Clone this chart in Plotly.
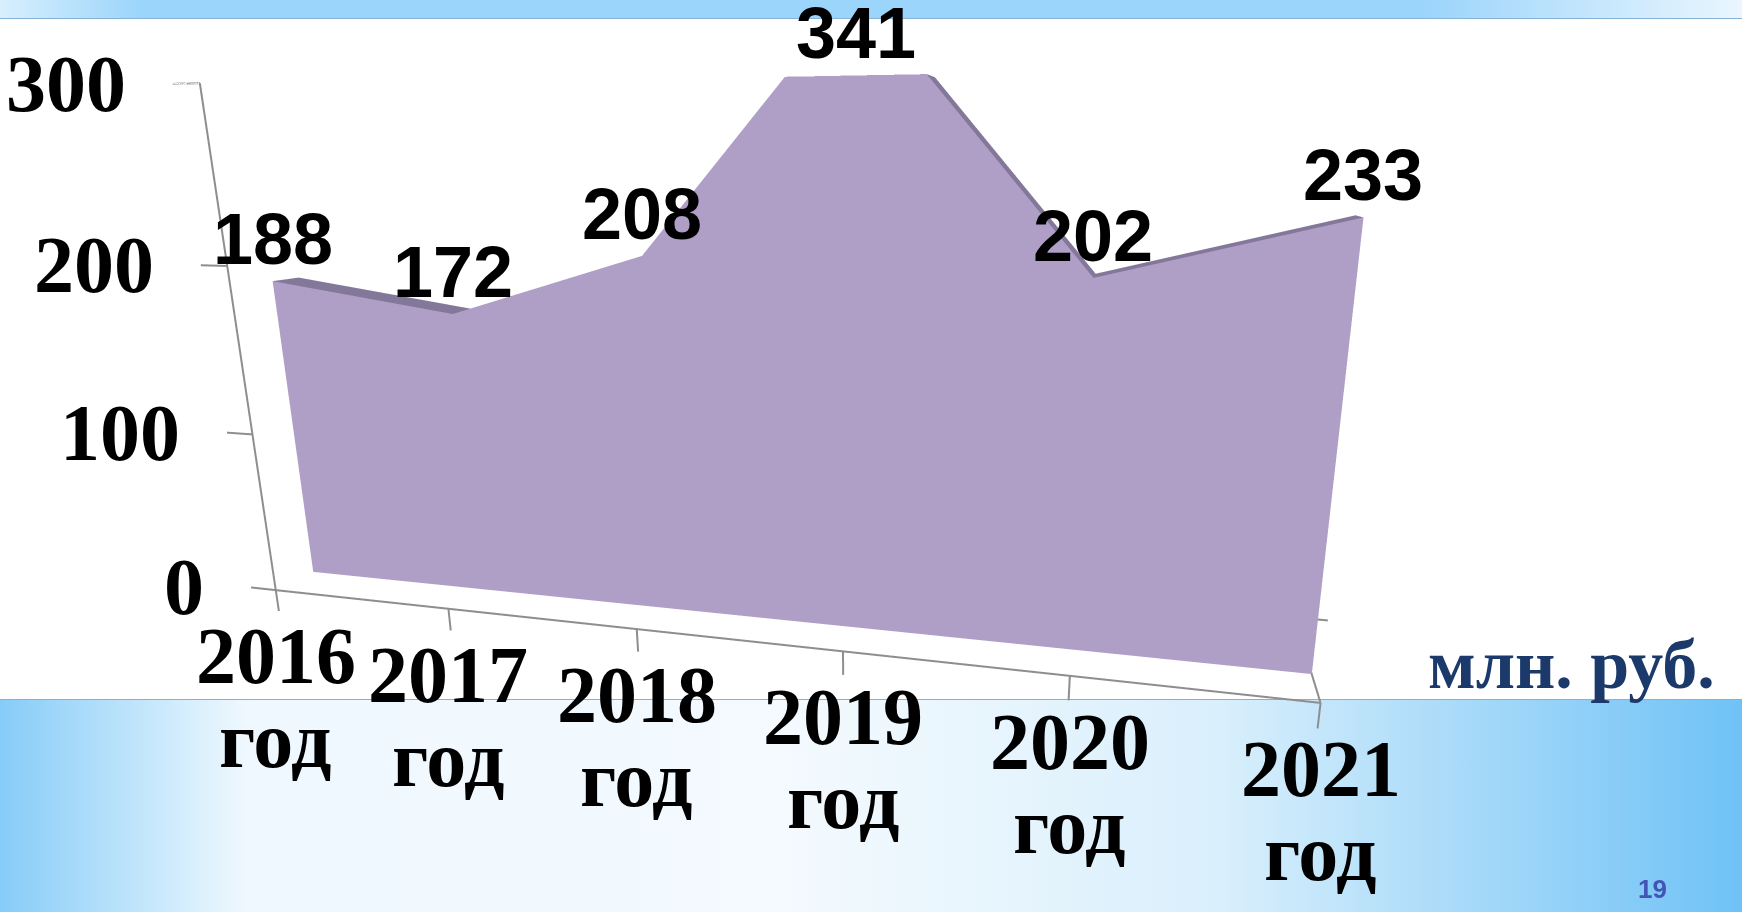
import base64
import math
import plotly.graph_objects as go

# ---------------- data ----------------
categories = ["2016", "2017", "2018", "2019", "2020", "2021"]
values = [188, 172, 208, 341, 202, 233]
value_ticks = [0, 100, 200, 300]
year_word = "год"
unit_label = "млн. руб."
page_number = "19"

AXIS_MAX = 300
n = len(categories)
xs = list(range(n))

# depth planes of the pseudo-3D chart
Y_FRONT = 0.0
Y_FACE = 0.3
Y_BACK = 0.5

LAV = "#AF9EC6"
TOP = "#84789A"
CAP = "#8B7FA0"
GRID = "#8E8E8E"


def flat(c):
    return [[0, c], [1, c]]


light = dict(ambient=1.0, diffuse=0.0, specular=0.0, roughness=1.0, fresnel=0.0)

fig = go.Figure()

# front face of the area
fig.add_trace(go.Surface(
    x=[xs, xs], y=[[Y_FACE] * n, [Y_FACE] * n], z=[[0] * n, values],
    colorscale=flat(LAV), showscale=False, lighting=light, hoverinfo="skip"))
# top strip
fig.add_trace(go.Surface(
    x=[xs, xs], y=[[Y_FACE] * n, [Y_BACK] * n], z=[values, values],
    colorscale=flat(TOP), showscale=False, lighting=light, hoverinfo="skip"))
# right end cap
fig.add_trace(go.Surface(
    x=[[xs[-1], xs[-1]], [xs[-1], xs[-1]]], y=[[Y_FACE, Y_BACK], [Y_FACE, Y_BACK]],
    z=[[0, 0], [values[-1], values[-1]]],
    colorscale=flat(CAP), showscale=False, lighting=light, hoverinfo="skip"))

# axes lines and ticks
lx, ly, lz = [], [], []


def seg(x0, y0, z0, x1, y1, z1):
    lx.extend([x0, x1, None]); ly.extend([y0, y1, None]); lz.extend([z0, z1, None])


seg(-0.15, Y_FRONT, 0, xs[-1], Y_FRONT, 0)          # category axis
seg(0, Y_FRONT, 0, 0, Y_FRONT, AXIS_MAX)             # value axis
for t in value_ticks:
    seg(-0.15, Y_FRONT, t, 0, Y_FRONT, t)
for i in xs:
    seg(i, Y_FRONT, 0, i, Y_FRONT, -14)
seg(xs[-1], Y_FRONT, 0, xs[-1], 1.0, 0)              # floor right edge
seg(xs[-1], 1.0, 0, xs[-1] + 0.15, 1.0, 0)

fig.add_trace(go.Scatter3d(x=lx, y=ly, z=lz, mode="lines",
                           line=dict(color=GRID, width=4), hoverinfo="skip",
                           connectgaps=False))

serif_bold = dict(family="Liberation Serif", size=80, color="black", weight="bold")
sans_bold = dict(family="Liberation Sans", size=72, color="black", weight="bold")

ann = []
for t in value_ticks:
    ann.append(dict(x=-0.15, y=Y_FRONT, z=t, text=str(t), showarrow=False,
                    xanchor="right", yanchor="middle", xshift=-45, font=serif_bold))
for i, v in zip(xs, values):
    ann.append(dict(x=i, y=Y_FACE, z=min(v, AXIS_MAX), text=str(v), showarrow=False,
                    xanchor="center", yanchor="bottom", yshift=0, font=sans_bold))
for i, c in zip(xs, categories):
    ann.append(dict(x=i, y=Y_FRONT, z=0, text=c, showarrow=False,
                    xanchor="center", yanchor="top", yshift=-20, font=serif_bold))
    ann.append(dict(x=i, y=Y_FRONT, z=0, text=year_word, showarrow=False,
                    xanchor="center", yanchor="top", yshift=-104, font=serif_bold))

axis_off = dict(visible=False, showspikes=False)

svg = """<svg xmlns="http://www.w3.org/2000/svg" width="1742" height="912" viewBox="0 0 1742 912" preserveAspectRatio="none">
<defs>
<linearGradient id="t" x1="0" x2="1" y1="0" y2="0">
<stop offset="0" stop-color="#D8EFFD"/><stop offset="0.08" stop-color="#9CD5FB"/>
<stop offset="0.82" stop-color="#9CD5FB"/><stop offset="1" stop-color="#EAF6FE"/>
</linearGradient>
<linearGradient id="b" x1="0" x2="1" y1="0" y2="0">
<stop offset="0" stop-color="#86CCF8"/><stop offset="0.14" stop-color="#EEF8FE"/>
<stop offset="0.45" stop-color="#F4FAFE"/><stop offset="0.7" stop-color="#D9EFFC"/>
<stop offset="1" stop-color="#6FC2F6"/>
</linearGradient>
</defs>
<rect width="1742" height="912" fill="white"/>
<rect x="0" y="0" width="1742" height="18" fill="url(#t)"/>
<line x1="0" y1="18.5" x2="1742" y2="18.5" stroke="#86B3D6" stroke-width="1"/>
<rect x="0" y="699" width="1742" height="213" fill="url(#b)"/>
<line x1="0" y1="699.5" x2="1742" y2="699.5" stroke="#A8A8A8" stroke-width="1"/>
</svg>"""
bg_uri = "data:image/svg+xml;base64," + base64.b64encode(svg.encode("utf-8")).decode("ascii")

ZOOM = 2.19
Z_STRETCH = 1.06
YAW, PITCH = math.radians(14), math.radians(15)
cam_center = dict(x=0.425, y=-0.088, z=0.312)
cam_dir = dict(x=math.sin(YAW) * math.cos(PITCH), y=-math.cos(YAW) * math.cos(PITCH),
               z=math.sin(PITCH))
CAM_DIST = 2.43
cam_eye = {k: cam_center[k] + CAM_DIST * cam_dir[k] for k in cam_dir}

fig.update_layout(
    width=1742, height=912,
    margin=dict(l=0, r=0, t=0, b=0),
    paper_bgcolor="white",
    showlegend=False,
    images=[dict(source=bg_uri, xref="paper", yref="paper", x=0, y=1, sizex=1, sizey=1,
                 sizing="stretch", layer="below", xanchor="left", yanchor="top")],
    scene=dict(
        domain=dict(x=[0, 1], y=[0, 1]),
        bgcolor="rgba(0,0,0,0)",
        xaxis=dict(range=[-1.2, 5.6], **axis_off),
        yaxis=dict(range=[0, 1], **axis_off),
        zaxis=dict(range=[-250, AXIS_MAX], **axis_off),
        aspectmode="manual",
        aspectratio=dict(x=1.53 * ZOOM, y=0.2 * ZOOM, z=0.955 * ZOOM * Z_STRETCH),
        camera=dict(projection=dict(type="perspective"),
                    eye=cam_eye, center=cam_center, up=dict(x=0, y=0, z=1)),
        annotations=ann,
    ),
    annotations=[
        dict(x=0.902, y=0.271, xref="paper", yref="paper", text=unit_label, showarrow=False,
             xanchor="center", yanchor="middle",
             font=dict(family="Liberation Serif", size=70, color="#1B3A6B", weight="bold")),
        dict(x=1652 / 1742, y=1 - 889 / 912, xref="paper", yref="paper", text=page_number,
             showarrow=False, xanchor="center", yanchor="middle",
             font=dict(family="Liberation Sans", size=26, color="#4354B5", weight="bold")),
    ],
)

fig.write_html("out.html", config={"displayModeBar": False},
               post_script="document.body.style.margin='0';")
